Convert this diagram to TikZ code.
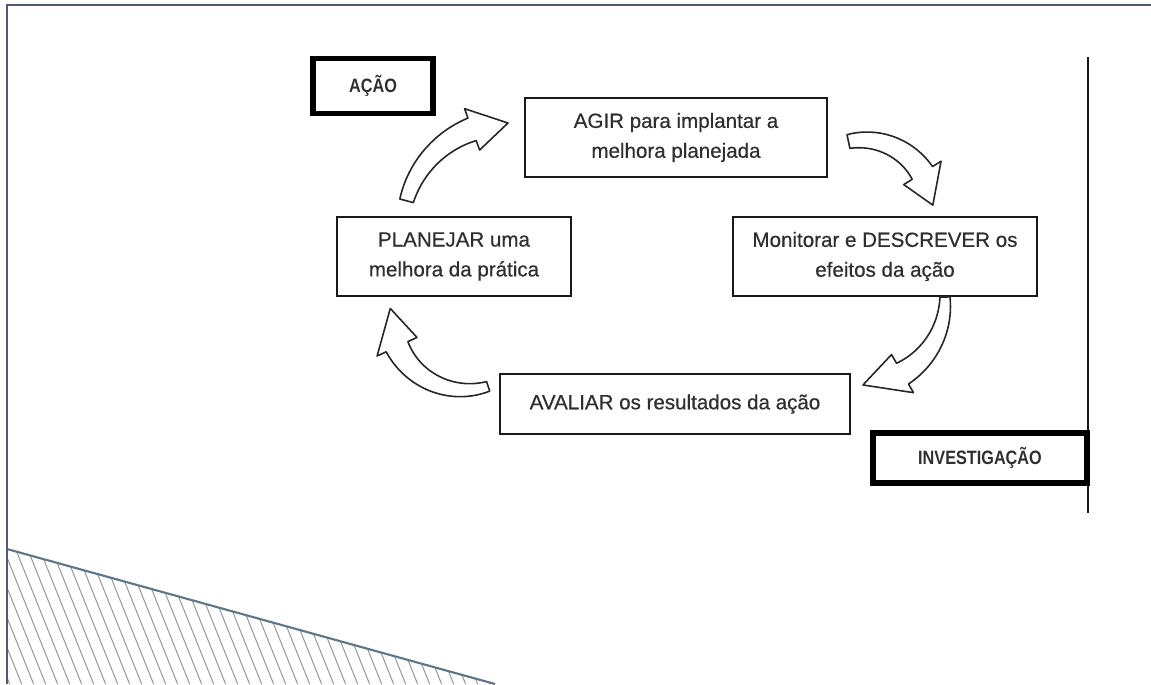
\documentclass[tikz,border=0pt]{standalone}
\usepackage{fontspec}
\setmainfont{Liberation Sans}
\newfontfamily\boxfont[FakeBold=0.5]{Liberation Sans}
\newfontfamily\narrowbf[FakeStretch=0.84]{Liberation Sans}
\definecolor{frameblue}{HTML}{4D5B78}
\definecolor{txt}{HTML}{2F2F2F}
\definecolor{hatchedge}{HTML}{5F7688}
\definecolor{hatchgray}{HTML}{959595}
\tikzset{
  box/.style={draw=black!90, line width=1.6pt, fill=white, align=center, text=txt,
    font=\boxfont\fontsize{11.7}{17}\selectfont, inner sep=0pt, outer sep=0pt},
  tagbox/.style={draw=black, line width=3pt, fill=white, text=txt,
    font=\narrowbf\bfseries\fontsize{11}{13}\selectfont, inner sep=0pt, outer sep=0pt},
  arrowshape/.style={draw=black!85, line width=0.9pt, fill=white, line join=round},
  hatch/.style={draw=hatchgray, line width=0.55pt},
  frameline/.style={draw=frameblue, line width=1.2pt},
}
% #1 cx, #2 cy, #3 R, #4 tail half width, #5 base half width,
% #6 tail angle, #7 head base angle, #8 tip angle, #9 head half width
\newcommand{\curvarrow}[9]{%
  \draw[arrowshape]
    plot[domain=0:1, samples=40] ({#1+(#3+#4+(#5-#4)*\x)*cos(#6+(#7-#6)*\x)}, {#2+(#3+#4+(#5-#4)*\x)*sin(#6+(#7-#6)*\x)})
    -- ({#1+(#3+#9)*cos(#7)}, {#2+(#3+#9)*sin(#7)})
    -- ({#1+#3*cos(#8)}, {#2+#3*sin(#8)})
    -- ({#1+(#3-#9)*cos(#7)}, {#2+(#3-#9)*sin(#7)})
    -- plot[domain=0:1, samples=40] ({#1+(#3-#5+(#5-#4)*\x)*cos(#7+(#6-#7)*\x)}, {#2+(#3-#5+(#5-#4)*\x)*sin(#7+(#6-#7)*\x)})
    -- cycle;}
\begin{document}
\begin{tikzpicture}[x=0.02cm, y=-0.02cm]
\useasboundingbox (0,0) rectangle (1151,684);
\fill[white] (0,0) rectangle (1151,684);

% hatched triangle
\begin{scope}
  \clip (7,549) -- (495,684) -- (7,684) -- cycle;
  \foreach \i in {-72,-60,...,500} \draw[hatch] (\i,540) -- (\i+60,690);
\end{scope}
\draw[draw=hatchedge, line width=1.2pt] (7,549) -- (495,684);

% frame
\draw[frameline] (1151,5) -- (7,5) -- (7,684);

% vertical line
\coordinate (vtop) at (1088,57);
\coordinate (vbot) at (1088,513);
\draw[line width=1.3pt, black!90] (vtop) -- (vbot);

% boxes
\node[tagbox, minimum width=2.4cm, minimum height=1.1cm] (acao) at (373,86) {AÇÃO};
\node[box, minimum width=6.04cm, minimum height=1.58cm] (agir) at (676,137.5) {AGIR para implantar a\\melhora planejada};
\node[box, minimum width=4.68cm, minimum height=1.58cm] (planejar) at (454,256.5) {PLANEJAR uma\\melhora da prática};
\node[box, minimum width=6.08cm, minimum height=1.58cm] (monitorar) at (885,256.5) {Monitorar e DESCREVER os\\efeitos da ação};
\node[box, minimum width=7.0cm, minimum height=1.2cm] (avaliar) at (675,404) {AVALIAR os resultados da ação};
\node[tagbox, minimum width=4.28cm, minimum height=1.0cm] (invest) at (980,458) {INVESTIGAÇÃO};

% curved block arrows
\curvarrow{508}{228}{105}{7}{12}{195}{250}{270}{22}
\curvarrow{863}{210}{70}{7}{12}{258}{328}{356}{22}
\curvarrow{860}{300}{85}{5}{12}{358}{420}{448}{22}
\curvarrow{465}{315}{75}{5}{12}{72}{155}{185}{22}
\end{tikzpicture}
\end{document}
